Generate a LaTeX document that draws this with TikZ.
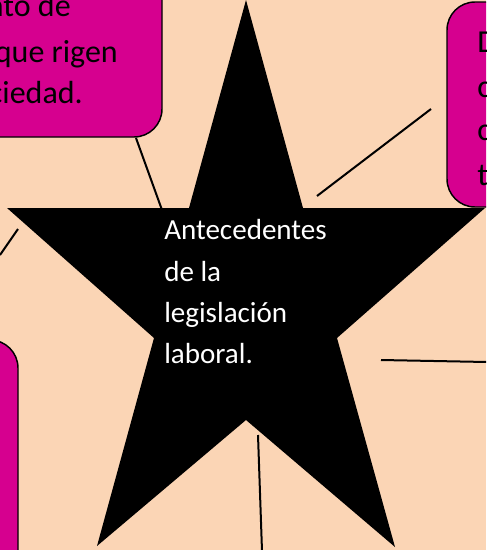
\documentclass[tikz,border=0pt]{standalone}
\usepackage{fontspec}
\setmainfont{Carlito}
\usepackage{xcolor}
\usetikzlibrary{positioning}
\definecolor{peach}{RGB}{251,213,181}
\definecolor{boxpink}{RGB}{214,0,143}

\begin{document}
\begin{tikzpicture}[
  x=0.75pt, y=-0.75pt,
  box/.style={draw=black, line width=1.1pt, fill=boxpink, rounded corners=21pt},
  txt/.style={font=\fontsize{21.8}{31}\selectfont, inner sep=0pt, anchor=base west},
  btxt/.style={txt, font=\fontsize{24}{33}\selectfont},
  rtxt/.style={btxt, anchor=base east},
  link/.style={line width=1.5pt}
]
  \useasboundingbox (0,0) rectangle (486,550);
  \clip (0,0) rectangle (486,550);
  \fill[peach] (0,0) rectangle (486,550);

  % boxes round the star
  \draw[box] (-80,-60) rectangle (162,137);
  \draw[box] (447,2) rectangle (600,207);
  \draw[box] (-80,340) rectangle (18,650);

  \node[rtxt] (tl1) at (71,16) {nto de};
  \node[rtxt] (tl2) at (118,62) {que rigen};
  \node[rtxt] (tl3) at (83,103) {ciedad.};

  \node[btxt] (tr1) at (477,52) {D};
  \node[btxt] (tr2) at (477,97) {c};
  \node[btxt] (tr3) at (477,140) {c};
  \node[btxt] (tr4) at (477,185) {t};

  % star
  \fill[black] (246,0) -- (303,208) -- (485,208) -- (337,338) -- (395,547)
    -- (246,420) -- (97,546) -- (154,338) -- (7,208) -- (189,208) -- cycle;

  \node[txt, text=white] (t1) at (164,239) {Antecedentes};
  \node[txt, text=white] (t2) at (164,281) {de la};
  \node[txt, text=white] (t3) at (164,322) {legislación};
  \node[txt, text=white] (t4) at (164,363) {laboral.};

  % connectors
  \coordinate (a1) at (136,138);
  \coordinate (a2) at (162,210);
  \coordinate (b1) at (317,196);
  \coordinate (b2) at (431,109);
  \coordinate (c1) at (0,255);
  \coordinate (c2) at (18,229);
  \coordinate (d1) at (381,360);
  \coordinate (d2) at (487,362);
  \coordinate (e1) at (258,435);
  \coordinate (e2) at (262,551);

  \draw[link] (a1) -- (a2);
  \draw[link] (b1) -- (b2);
  \draw[link] (c1) -- (c2);
  \draw[link] (d1) -- (d2);
  \draw[link] (e1) -- (e2);
\end{tikzpicture}
\end{document}
